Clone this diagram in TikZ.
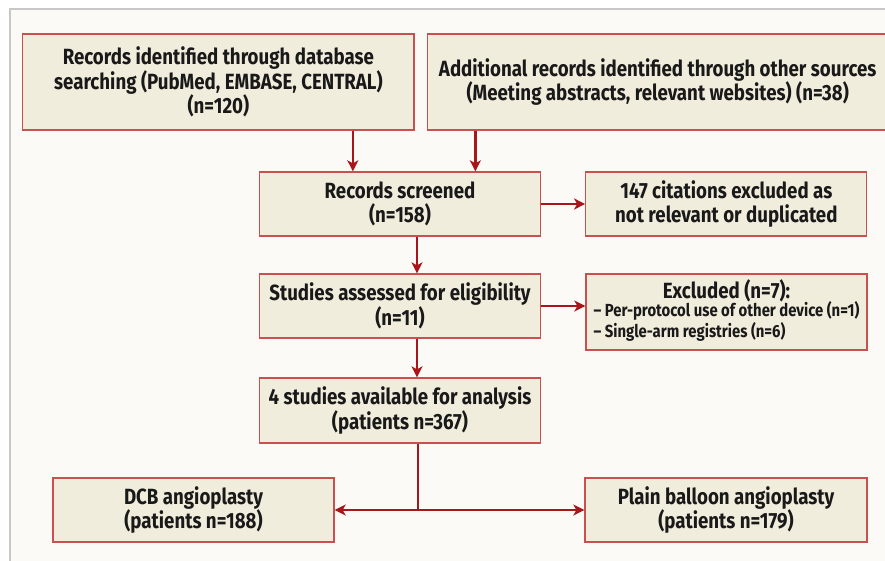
\documentclass[tikz,border=0pt]{standalone}
\usepackage{fontspec}
\setmainfont{Fira Sans}[FakeStretch=0.85]
\usetikzlibrary{arrows.meta}
\definecolor{boxfill}{HTML}{F1EDDC}
\definecolor{boxline}{HTML}{C8504E}
\definecolor{arrowred}{HTML}{A8161C}
\definecolor{pagebg}{HTML}{FBFAF7}
\definecolor{frameline}{HTML}{C8C8C8}
\begin{document}
\begin{tikzpicture}[x=1pt, y=-1pt,
	box/.style={draw=boxline, line width=1.3pt, fill=boxfill, align=center, inner sep=0pt,
		font=\fontsize{22}{23.5}\selectfont\bfseries, text=black!90},
	arr/.style={draw=arrowred, line width=2.4pt, -{Stealth[length=11pt, width=11pt, inset=3pt]}}]
	\useasboundingbox (0, 0) rectangle (885, 560);
	\draw[fill=pagebg, draw=frameline, line width=1.5pt] (10, 9) rectangle (900, 575);

	\node[box, minimum width=391.4pt, minimum height=96pt] (rec1) at (218.4, 82) {Records identified through database\\searching (PubMed, EMBASE, CENTRAL)\\(n=120)};
	\node[box, minimum width=460.4pt, minimum height=96pt] (rec2) at (657.7, 82) {Additional records identified through other sources\\(Meeting abstracts, relevant websites) (n=38)};
	\node[box, minimum width=281pt, minimum height=64pt] (scr) at (400, 204) {Records screened\\(n=158)};
	\node[box, minimum width=281pt, minimum height=64pt] (cite) at (726.3, 204) {147 citations excluded as\\not relevant or duplicated};
	\node[box, minimum width=281pt, minimum height=64pt] (elig) at (400, 306) {Studies assessed for eligibility\\(n=11)};
	\node[box, minimum width=281pt, minimum height=76pt] (excl) at (726.5, 312) {Excluded (n=7):\\[-2pt]
		{\fontsize{17.5}{21.5}\selectfont\begin{tabular}{@{}l@{}}-- Per-protocol use of other device (n=1)\\-- Single-arm registries (n=6)\end{tabular}}};
	\node[box, minimum width=281pt, minimum height=65pt] (avail) at (400, 410.5) {4 studies available for analysis\\(patients n=367)};
	\node[box, minimum width=281pt, minimum height=64pt] (dcb) at (193.5, 510) {DCB angioplasty\\(patients n=188)};
	\node[box, minimum width=282pt, minimum height=64pt] (pob) at (726, 510) {Plain balloon angioplasty\\(patients n=179)};

	\draw[arr] ([xshift=94pt]scr.north west |- rec1.south) -- ([xshift=94pt]scr.north west);
	\draw[arr] ([xshift=48.5pt]rec2.south west) -- ([xshift=48.5pt]rec2.south west |- scr.north);
	\draw[arr] (scr.east) -- (cite.west);
	\draw[arr] ([xshift=17pt]scr.south) -- ([xshift=17pt]elig.north);
	\draw[arr] (elig.east) -- (elig.east -| excl.west);
	\draw[arr] ([xshift=17pt]elig.south) -- ([xshift=17pt]avail.north);
	\coordinate (split) at ([xshift=18pt]avail.south |- dcb.east);
	\draw[draw=arrowred, line width=2.4pt] ([xshift=18pt]avail.south) -- (split);
	\draw[arr] (split) -- (dcb.east);
	\draw[arr] (split) -- (pob.west);

\end{tikzpicture}
\end{document}
